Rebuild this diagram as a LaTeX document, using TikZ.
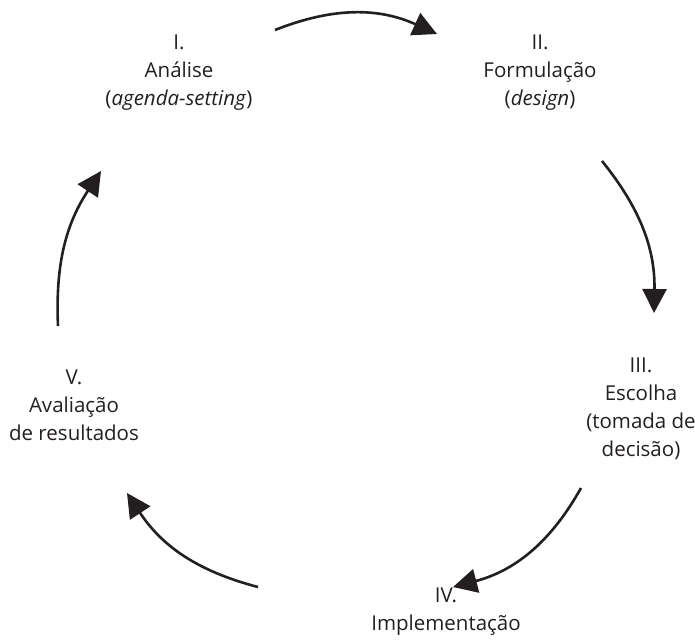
\documentclass[tikz,border=0pt]{standalone}
\usepackage{fontspec}
\setmainfont{Open Sans}
\usetikzlibrary{arrows.meta}
\definecolor{ink}{RGB}{35,31,32}
\begin{document}
\begin{tikzpicture}[x=1pt,y=1pt,
  lbl/.style={align=center, font=\fontsize{20.5}{28}\selectfont, inner sep=0pt, text=ink},
  cyc/.style={draw=ink, line width=2.6pt, -{Triangle[length=24pt,width=24pt]}}]
\useasboundingbox (0,0) rectangle (695,-641);
% labels
\node[lbl] (n1) at (179,-73) {I.\\Análise\\(\textit{agenda-setting})};
\node[lbl] (n2) at (540,-73) {II.\\Formulação\\(\textit{design})};
\node[lbl] (n3) at (641,-409) {III.\\Escolha\\(tomada de\\decisão)};
\node[lbl] (n4) at (446,-612) {IV.\\Implementação};
\node[lbl] (n5) at (74,-405) {V.\\Avaliação\\de resultados};
% arrow end points
\coordinate (a1s) at (275,-30);  \coordinate (a1e) at (437,-34);
\coordinate (a2s) at (602,-161); \coordinate (a2e) at (654,-313);
\coordinate (a3s) at (581,-488); \coordinate (a3e) at (453,-587);
\coordinate (a4s) at (258,-587); \coordinate (a4e) at (127,-493);
\coordinate (a5s) at (58,-326);  \coordinate (a5e) at (101,-171);
% arrows
\draw[cyc] (a1s) to[bend left=23] (a1e);
\draw[cyc] (a2s) to[bend left=20] (a2e);
\draw[cyc] (a3s) to[bend left=23] (a3e);
\draw[cyc] (a4s) to[bend left=21] (a4e);
\draw[cyc] (a5s) to[bend left=18] (a5e);
\end{tikzpicture}
\end{document}
